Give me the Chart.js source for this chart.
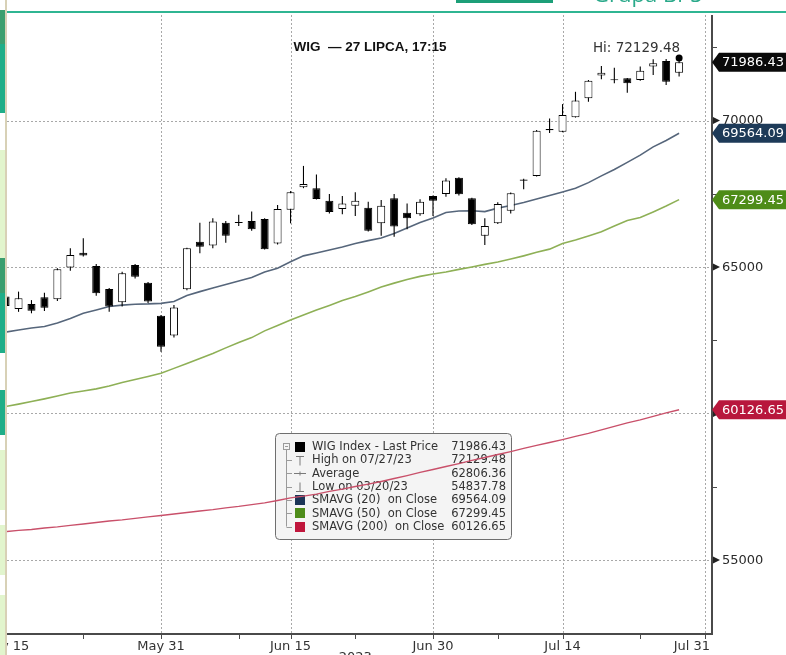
<!DOCTYPE html>
<html>
<head>
<meta charset="utf-8">
<script src="https://cdn.jsdelivr.net/npm/chart.js@4.4.0/dist/chart.umd.min.js"></script>
<style>
  html, body { margin: 0; padding: 0; background: #fff; overflow: hidden; }
  canvas { display: block; }
</style>
</head>
<body>
<canvas id="grafico" width="786" height="655"></canvas>
<script>
// sesiones de la bolsa (15 may - 27 jul 2023)
const dias = ['May 15','May 16','May 17','May 18','May 19','May 22','May 23','May 24','May 25','May 26',
  'May 29','May 30','May 31','Jun 1','Jun 2','Jun 5','Jun 6','Jun 7','Jun 9','Jun 12',
  'Jun 13','Jun 14','Jun 15','Jun 16','Jun 19','Jun 20','Jun 21','Jun 22','Jun 23','Jun 26',
  'Jun 27','Jun 28','Jun 29','Jun 30','Jul 3','Jul 4','Jul 5','Jul 6','Jul 7','Jul 10',
  'Jul 11','Jul 12','Jul 13','Jul 14','Jul 17','Jul 18','Jul 19','Jul 20','Jul 21','Jul 24',
  'Jul 25','Jul 26','Jul 27'];

const apertura = [63990,63570,63740,63970,63900,64980,65490,65030,64250,63800,
  65070,64460,63340,62660,64240,65860,65730,66510,66540,66570,
  66640,65800,66950,67720,67690,67260,66980,67090,67020,66490,
  67350,66850,66800,67420,67490,68050,67350,66070,66490,66920,
  67990,68110,69710,69620,70110,70760,71540,71410,71440,71380,
  71840,72030,71630];
const maximo = [64050,64160,63870,64120,64960,65640,65980,65100,64280,64840,
  65100,64490,63360,63700,65660,66510,66660,66570,66780,66890,
  66660,67120,67590,68450,68160,67490,67420,67550,67230,67290,
  67490,67170,67310,67440,68030,68060,67360,66660,67210,67540,
  68010,69680,70070,70560,70980,71380,71860,71800,71450,71840,
  72090,72100,72129.48];
const minimo = [63600,63470,63420,63500,63840,64870,65360,64020,63470,63650,
  64610,63770,62110,62590,64210,65470,65640,65830,66400,66240,
  65600,65770,66490,67690,67300,66830,66800,66740,66210,66070,
  66030,66290,66750,66740,67400,67440,66430,65750,66470,66830,
  67650,68090,69570,69600,70100,70640,71410,71270,70950,71360,
  71550,71210,71500];
const cierre = [63670,63930,63510,63610,64920,65410,65390,64100,63650,64790,
  64670,63820,62280,63620,65640,65690,66550,66070,66500,66290,
  65610,66980,67550,67830,67320,66880,67170,67260,66240,67090,
  66380,66660,67230,67260,67950,67480,66460,66400,67150,67520,
  67940,69650,69670,70190,70680,71360,71630,71370,71270,71700,
  71950,71320,71986.43];

const sma20 = [62780,62850,62920,62970,63090,63240,63420,63530,63650,63700,
  63730,63740,63760,63820,64030,64160,64280,64400,64520,64640,
  64830,64960,65180,65380,65480,65580,65680,65800,65900,65990,
  66140,66330,66520,66670,66860,66910,66920,66890,67010,67100,
  67200,67320,67440,67560,67690,67880,68110,68330,68570,68820,
  69100,69320,69564.09];
const sma50 = [60240,60320,60410,60500,60600,60700,60770,60840,60940,61060,
  61160,61260,61370,61540,61710,61880,62050,62240,62420,62590,
  62820,63000,63190,63360,63530,63690,63860,63990,64150,64320,
  64450,64570,64680,64760,64830,64920,65000,65090,65170,65270,
  65380,65500,65610,65800,65920,66060,66200,66400,66590,66690,
  66880,67080,67299.45];
const sma200 = [55970,56010,56040,56090,56130,56180,56230,56280,56330,56370,
  56420,56470,56520,56570,56620,56670,56720,56780,56830,56890,
  56950,57030,57120,57180,57250,57340,57420,57510,57590,57680,
  57780,57880,57990,58090,58190,58290,58400,58500,58600,58700,
  58810,58910,59010,59110,59220,59320,59440,59560,59680,59780,
  59900,60020,60126.65];

// ejes
const ticksX = [0, 12, 22, 33, 43, 54];
const etiquetasX = ['May 15', 'May 31', 'Jun 15', 'Jun 30', 'Jul 14', 'Jul 31'];
const ticksXmenores = [6, 18, 27, 38, 49];
const ticksY = [55000, 60000, 65000, 70000];
const ticksYmenores = [57500, 62500, 67500, 72500];

// leyenda
const leyendaTextos = ['WIG Index - Last Price', 'High on 07/27/23', 'Average', 'Low on 03/20/23',
  'SMAVG (20)  on Close', 'SMAVG (50)  on Close', 'SMAVG (200)  on Close'];
const leyendaValores = ['71986.43', '72129.48', '62806.36', '54837.78', '69564.09', '67299.45', '60126.65'];

const titulo = 'WIG  \u2014 27 LIPCA, 17:15';

const colorSma20 = '#56667b';
const colorSma50 = '#8eb056';
const colorSma200 = '#c9506a';

const franjas = [
  [0, 10, '#ffffff'], [10, 44, '#3c9f6f'], [44, 113, '#1fae88'], [113, 150, '#ffffff'],
  [150, 258, '#e2f5cd'], [258, 293, '#3a9e6e'], [293, 353, '#1fae88'], [353, 390, '#ffffff'],
  [390, 435, '#1fae88'], [435, 450, '#ffffff'], [450, 510, '#e2f5cd'], [510, 525, '#ffffff'],
  [525, 575, '#e2f5cd'], [575, 595, '#ffffff'], [595, 655, '#e2f5cd']
];

const linea = (ctx, x1, y1, x2, y2) => {
  ctx.beginPath();
  ctx.moveTo(x1, y1);
  ctx.lineTo(x2, y2);
  ctx.stroke();
};

const etiqueta = (ctx, yPix, color, texto, xIni) => {
  ctx.fillStyle = color;
  ctx.beginPath();
  ctx.moveTo(xIni, yPix);
  ctx.lineTo(xIni + 7, yPix - 9.5);
  ctx.lineTo(800, yPix - 9.5);
  ctx.lineTo(800, yPix + 9.5);
  ctx.lineTo(xIni + 7, yPix + 9.5);
  ctx.closePath();
  ctx.fill();
  ctx.fillStyle = '#fff';
  ctx.font = '13px "DejaVu Sans"';
  ctx.textAlign = 'left';
  ctx.textBaseline = 'middle';
  ctx.fillText(texto, xIni + 10, yPix + 0.5);
};

const decorado = {
  id: 'decorado',
  beforeDatasetsDraw(chart) {
    const {ctx, chartArea: a, scales: {x, y}} = chart;
    ctx.save();
    ctx.strokeStyle = '#a8a8a8';
    ctx.lineWidth = 1;
    ctx.setLineDash([2, 2]);
    ticksY.forEach(v => {
      const py = Math.round(y.getPixelForValue(v)) + 0.5;
      linea(ctx, a.left, py, a.right, py);
    });
    ticksX.forEach(i => {
      const px = Math.round(x.getPixelForValue(i)) + 0.5;
      linea(ctx, px, a.top + 1, px, a.bottom);
    });
    ctx.setLineDash([]);

    // cuadro de leyenda
    const bx = 275.5, by = 433.5, bw = 236, bh = 106;
    ctx.fillStyle = '#f4f4f4';
    ctx.strokeStyle = '#6f6f6f';
    ctx.beginPath();
    ctx.roundRect(bx, by, bw, bh, 4);
    ctx.fill();
    ctx.stroke();

    const filaY = i => 446.5 + i * 13.35;
    ctx.strokeStyle = '#9a9a9a';
    ctx.strokeRect(283.5, 443.5, 6, 6);
    linea(ctx, 285, 446.5, 288, 446.5);
    linea(ctx, 286.5, 450, 286.5, filaY(6));
    for (let i = 1; i < 7; i++) linea(ctx, 286.5, Math.round(filaY(i)) + 0.5, 292, Math.round(filaY(i)) + 0.5);

    const cuadros = ['#000000', null, null, null, '#1c3557', '#4e8c1a', '#c0163c'];
    cuadros.forEach((c, i) => {
      if (c) {
        ctx.fillStyle = c;
        ctx.fillRect(295, Math.round(filaY(i)) - 5, 10, 10);
      }
    });
    ctx.strokeStyle = '#7a7a7a';
    let fy = Math.round(filaY(1)) + 0.5;
    linea(ctx, 296, fy - 4, 304, fy - 4);
    linea(ctx, 300, fy - 4, 300, fy + 5);
    fy = Math.round(filaY(2)) + 0.5;
    linea(ctx, 294, fy, 306, fy);
    linea(ctx, 300, fy - 2, 300, fy + 2);
    fy = Math.round(filaY(3)) + 0.5;
    linea(ctx, 300, fy - 5, 300, fy + 4);
    linea(ctx, 296, fy + 4, 304, fy + 4);

    ctx.textBaseline = 'middle';
    ctx.fillStyle = '#333';
    ctx.font = '11.5px "DejaVu Sans"';
    leyendaTextos.forEach((t, i) => {
      ctx.textAlign = 'left';
      ctx.fillText(t, 312, filaY(i) + 0.5);
      ctx.textAlign = 'right';
      ctx.fillText(leyendaValores[i], 506, filaY(i) + 0.5);
    });
    ctx.restore();
  },
  afterDraw(chart) {
    const {ctx, chartArea: a, scales: {x, y}} = chart;
    ctx.save();

    // ejes
    ctx.fillStyle = '#4a4a4a';
    ctx.fillRect(a.right - 1, a.top + 1, 2, a.bottom - a.top);
    ctx.fillRect(a.left, a.bottom - 1, a.right - a.left, 2);
    ctx.strokeStyle = '#4a4a4a';
    ctx.lineWidth = 1;
    ticksYmenores.forEach(v => {
      const py = Math.round(y.getPixelForValue(v)) + 0.5;
      linea(ctx, a.right, py, a.right + 5, py);
    });
    ticksXmenores.concat(ticksX).forEach(i => {
      const px = Math.round(x.getPixelForValue(i)) + 0.5;
      linea(ctx, px, a.bottom, px, a.bottom + 5);
    });

    ctx.font = '13px "DejaVu Sans"';
    ctx.textBaseline = 'middle';
    ctx.textAlign = 'left';
    ticksY.forEach(v => {
      const py = y.getPixelForValue(v);
      ctx.fillStyle = '#222';
      ctx.beginPath();
      ctx.moveTo(a.right + 1, py - 3.5);
      ctx.lineTo(a.right + 8, py);
      ctx.lineTo(a.right + 1, py + 3.5);
      ctx.closePath();
      ctx.fill();
      ctx.fillStyle = '#2a2a2a';
      ctx.fillText(String(v), a.right + 10, py + 0.5);
    });

    ctx.fillStyle = '#333';
    ticksX.forEach((i, k) => {
      const px = x.getPixelForValue(i);
      const ultimo = k === ticksX.length - 1;
      ctx.textAlign = ultimo ? 'right' : 'center';
      ctx.fillText(etiquetasX[k], ultimo ? a.right - 2 : px, a.bottom + 13);
    });
    ctx.textAlign = 'center';
    ctx.textBaseline = 'top';
    ctx.fillText('2023', x.getPixelForValue(27), 651);

    // etiquetas del ultimo valor
    const n = dias.length - 1;
    etiqueta(ctx, y.getPixelForValue(sma200[n]), '#b8173c', sma200[n].toFixed(2), a.right);
    etiqueta(ctx, y.getPixelForValue(sma50[n]), '#4e8c18', sma50[n].toFixed(2), a.right);
    etiqueta(ctx, y.getPixelForValue(sma20[n]), '#1d3a58', sma20[n].toFixed(2), a.right);
    etiqueta(ctx, y.getPixelForValue(cierre[n]), '#0a0a0a', cierre[n].toFixed(2), a.right);

    // titulo y maximo
    ctx.fillStyle = '#111';
    ctx.font = 'bold 13.5px "Liberation Sans"';
    ctx.textAlign = 'center';
    ctx.textBaseline = 'middle';
    ctx.fillText(titulo, 370, 47);
    ctx.fillStyle = '#333';
    ctx.font = '13.5px "DejaVu Sans"';
    ctx.textAlign = 'right';
    ctx.fillText('Hi: ' + maximo[n].toFixed(2), x.getPixelForValue(n) + 1, y.getPixelForValue(maximo[n]) - 10);

    // cabecera y franja izquierda
    ctx.fillStyle = '#2fb592';
    ctx.fillRect(7, 11, 779, 2);
    ctx.fillStyle = '#1c9f78';
    ctx.fillRect(456, 0, 97, 3);
    ctx.fillStyle = '#2aa98a';
    ctx.font = '22px "Open Sans"';
    ctx.textAlign = 'left';
    ctx.textBaseline = 'alphabetic';
    ctx.fillText('Grupa BPS', 593, 2);
    franjas.forEach(([y0, y1, c]) => {
      ctx.fillStyle = c;
      ctx.fillRect(0, y0, 5, y1 - y0);
    });
    ctx.fillStyle = '#d8d1b6';
    ctx.fillRect(5, 0, 2, 655);
    ctx.restore();
  }
};

const indices = dias.map((d, i) => i);

const config = {
  type: 'bar',
  data: {
    datasets: [
      {
        label: 'cuerpos',
        data: indices.map(i => ({x: i, y: [apertura[i], cierre[i]]})),
        backgroundColor: indices.map(i => cierre[i] >= apertura[i] ? '#ffffff' : '#000000'),
        borderColor: '#000000',
        borderWidth: 1,
        borderSkipped: false,
        grouped: false,
        categoryPercentage: 1,
        barPercentage: 0.62,
        order: 1
      },
      {
        label: 'mechas',
        data: indices.map(i => ({x: i, y: [minimo[i], maximo[i]]})),
        backgroundColor: '#000000',
        borderWidth: 0,
        grouped: false,
        categoryPercentage: 1,
        barPercentage: 0.085,
        order: 2
      },
      {
        type: 'line',
        label: 'maximo',
        data: [{x: dias.length - 1, y: maximo[dias.length - 1]}],
        showLine: false,
        pointRadius: 3.5,
        pointBackgroundColor: '#000',
        pointBorderWidth: 0,
        order: 0
      },
      {
        type: 'line',
        label: 'SMAVG (20)',
        data: indices.map(i => ({x: i, y: sma20[i]})),
        borderColor: colorSma20,
        borderWidth: 1.6,
        pointRadius: 0,
        order: 3
      },
      {
        type: 'line',
        label: 'SMAVG (50)',
        data: indices.map(i => ({x: i, y: sma50[i]})),
        borderColor: colorSma50,
        borderWidth: 1.6,
        pointRadius: 0,
        order: 3
      },
      {
        type: 'line',
        label: 'SMAVG (200)',
        data: indices.map(i => ({x: i, y: sma200[i]})),
        borderColor: colorSma200,
        borderWidth: 1.4,
        pointRadius: 0,
        order: 3
      }
    ]
  },
  options: {
    responsive: false,
    animation: false,
    events: [],
    devicePixelRatio: 1,
    layout: {padding: {top: 14, left: 7, right: 0, bottom: 0}},
    scales: {
      x: {
        type: 'linear',
        offset: false,
        min: 0.11,
        max: 54.54,
        grid: {display: false, offset: false},
        border: {display: false},
        ticks: {display: false},
        afterBuildTicks: scale => { scale.ticks = ticksX.map(v => ({value: v})); },
        afterFit: scale => { scale.height = 21; }
      },
      y: {
        type: 'linear',
        position: 'right',
        min: 52474,
        max: 73635,
        grid: {display: false},
        border: {display: false},
        ticks: {display: false},
        afterFit: scale => { scale.width = 74; }
      }
    },
    plugins: {
      legend: {display: false},
      tooltip: {enabled: false}
    }
  },
  plugins: [decorado]
};

const grafico = new Chart(document.getElementById('grafico'), config);
</script>
</body>
</html>
